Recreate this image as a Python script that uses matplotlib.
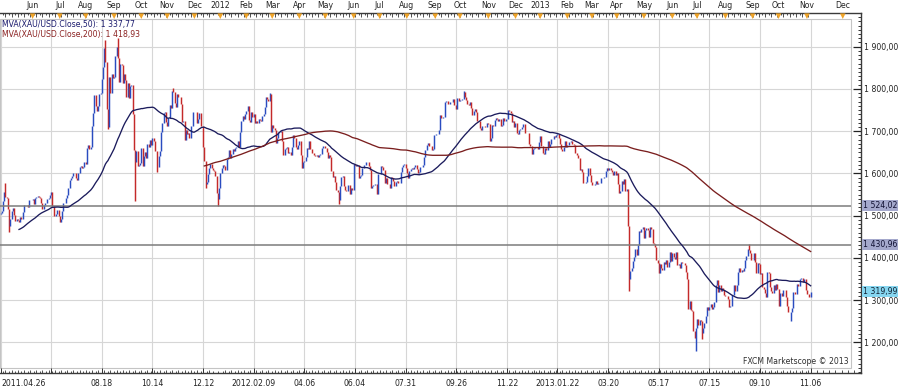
import numpy as np
import pandas as pd
import matplotlib
matplotlib.use("Agg")
import matplotlib.pyplot as plt
import matplotlib.transforms as mtransforms
from matplotlib.patches import Rectangle

plt.rcParams['font.family'] = ['DejaVu Sans']

# ---------------- data (daily closes, XAU/USD) ----------------
close_2011_03 = [1434, 1412, 1421, 1422, 1395, 1397, 1404, 1418, 1426, 1426, 1437, 1437, 1428, 1418, 1417, 1424, 1439]
close_2011_04 = [1429, 1437, 1452, 1459, 1459, 1474, 1464, 1454, 1457, 1473, 1486, 1493, 1496, 1503, 1504, 1504, 1505,
                 1507, 1510, 1535, 1556]
close_2011_05 = [1545, 1542, 1515, 1475, 1492, 1512, 1517, 1502, 1488, 1493, 1490, 1486, 1497, 1493, 1509, 1526, 1526,
                 1526, 1520, 1536, 1536, 1536]
close_2011_06 = [1540, 1528, 1542, 1543, 1546, 1543, 1541, 1530, 1516, 1525, 1529, 1531, 1539, 1541, 1548, 1555, 1522,
                 1500, 1500, 1504, 1513, 1500]
close_2011_07 = [1486, 1491, 1511, 1530, 1530, 1542, 1550, 1565, 1585, 1590, 1594, 1602, 1600, 1589, 1585, 1601, 1616,
                 1618, 1614, 1615, 1628]
close_2011_08 = [1623, 1660, 1667, 1658, 1663, 1713, 1742, 1785, 1760, 1747, 1760, 1787, 1791, 1824, 1852, 1896, 1863,
                 1752, 1710, 1828, 1790, 1835, 1826]
close_2011_09 = [1828, 1877, 1900, 1873, 1817, 1860, 1856, 1814, 1836, 1820, 1781, 1814, 1779, 1806, 1810, 1740, 1656,
                 1627, 1654, 1617, 1620, 1624]
close_2011_10 = [1659, 1617, 1642, 1650, 1637, 1670, 1662, 1680, 1668, 1683, 1677, 1654, 1653, 1615, 1641, 1654, 1697,
                 1720, 1742, 1745, 1722]
close_2011_11 = [1712, 1732, 1761, 1755, 1796, 1792, 1766, 1758, 1788, 1780, 1782, 1764, 1722, 1724, 1680, 1702, 1693,
                 1696, 1684, 1713, 1712, 1746]
close_2011_12 = [1745, 1746, 1720, 1730, 1742, 1713, 1712, 1662, 1630, 1575, 1580, 1598, 1612, 1623, 1612, 1607, 1606,
                 1593, 1553, 1540, 1566]
close_2012_01 = [1600, 1612, 1620, 1617, 1608, 1634, 1640, 1655, 1637, 1647, 1657, 1653, 1659, 1662, 1677, 1663, 1697,
                 1724, 1737, 1728, 1740]
close_2012_02 = [1747, 1759, 1726, 1722, 1745, 1733, 1741, 1720, 1724, 1720, 1728, 1727, 1724, 1735, 1740, 1758, 1780,
                 1777, 1772, 1787, 1699]
close_2012_03 = [1715, 1708, 1703, 1672, 1684, 1698, 1697, 1700, 1676, 1644, 1657, 1660, 1663, 1648, 1650, 1643, 1662,
                 1690, 1685, 1662, 1657, 1668]
close_2012_04 = [1677, 1644, 1613, 1628, 1630, 1640, 1661, 1658, 1676, 1658, 1648, 1649, 1643, 1642, 1643, 1638, 1643,
                 1645, 1661, 1664, 1664]
close_2012_05 = [1661, 1651, 1636, 1643, 1640, 1606, 1591, 1593, 1579, 1561, 1556, 1538, 1571, 1592, 1593, 1571, 1561,
                 1558, 1573, 1573, 1552, 1565, 1560]
close_2012_06 = [1622, 1620, 1617, 1620, 1589, 1594, 1597, 1612, 1619, 1619, 1626, 1628, 1618, 1608, 1566, 1571, 1572,
                 1575, 1574, 1551, 1598]
close_2012_07 = [1598, 1618, 1616, 1607, 1578, 1588, 1574, 1574, 1565, 1591, 1590, 1583, 1570, 1580, 1583, 1578, 1577,
                 1604, 1615, 1620, 1623, 1614]
close_2012_08 = [1600, 1590, 1605, 1610, 1612, 1610, 1616, 1620, 1610, 1600, 1603, 1615, 1616, 1620, 1640, 1655, 1668,
                 1671, 1666, 1664, 1656, 1657, 1691]
close_2012_09 = [1691, 1693, 1694, 1703, 1738, 1731, 1734, 1733, 1768, 1771, 1765, 1764, 1769, 1768, 1776, 1763, 1762,
                 1752, 1778, 1772]
close_2012_10 = [1775, 1775, 1777, 1793, 1780, 1775, 1765, 1762, 1768, 1756, 1738, 1747, 1752, 1745, 1724, 1725, 1708,
                 1702, 1712, 1712, 1709, 1711, 1719]
close_2012_11 = [1716, 1676, 1683, 1715, 1713, 1726, 1731, 1728, 1725, 1730, 1713, 1714, 1732, 1725, 1728, 1729, 1751,
                 1748, 1742, 1721, 1724, 1711]
close_2012_12 = [1719, 1696, 1694, 1703, 1704, 1711, 1716, 1717, 1695, 1696, 1696, 1669, 1666, 1645, 1657, 1660, 1662,
                 1662, 1657, 1675]
close_2013_01 = [1688, 1665, 1648, 1646, 1661, 1656, 1677, 1662, 1669, 1682, 1682, 1689, 1687, 1692, 1693, 1685, 1669,
                 1658, 1654, 1662, 1677, 1663]
close_2013_02 = [1667, 1674, 1675, 1676, 1670, 1667, 1649, 1648, 1644, 1636, 1609, 1610, 1603, 1578, 1577, 1580, 1593,
                 1614, 1596, 1579]
close_2013_03 = [1573, 1573, 1575, 1583, 1576, 1577, 1577, 1590, 1588, 1589, 1592, 1605, 1613, 1608, 1613, 1607, 1604,
                 1596, 1605, 1597]
close_2013_04 = [1600, 1575, 1553, 1558, 1581, 1575, 1586, 1558, 1564, 1476, 1350, 1368, 1377, 1392, 1403, 1422, 1408,
                 1431, 1463, 1462, 1469, 1472]
close_2013_05 = [1446, 1467, 1470, 1467, 1450, 1473, 1469, 1436, 1433, 1426, 1396, 1387, 1364, 1385, 1377, 1372, 1391,
                 1386, 1396, 1378, 1391, 1413, 1392]
close_2013_06 = [1411, 1401, 1398, 1414, 1383, 1385, 1377, 1391, 1388, 1387, 1383, 1367, 1349, 1278, 1298, 1277, 1275,
                 1228, 1211, 1234]
close_2013_07 = [1255, 1242, 1252, 1251, 1223, 1235, 1246, 1262, 1284, 1277, 1283, 1291, 1278, 1283, 1295, 1335, 1347,
                 1320, 1335, 1322, 1328, 1325, 1313]
close_2013_08 = [1310, 1310, 1302, 1283, 1286, 1311, 1313, 1336, 1321, 1335, 1367, 1376, 1366, 1372, 1370, 1377, 1395,
                 1404, 1420, 1418, 1411, 1396]
close_2013_09 = [1395, 1412, 1390, 1365, 1387, 1386, 1363, 1364, 1332, 1326, 1317, 1307, 1367, 1364, 1332, 1322, 1316,
                 1337, 1324, 1338, 1327]
close_2013_10 = [1286, 1318, 1316, 1310, 1323, 1324, 1307, 1286, 1272, 1273, 1273, 1282, 1320, 1315, 1315, 1338, 1334,
                 1349, 1352, 1353, 1344, 1349, 1323]
close_2013_11 = [1315, 1315, 1308, 1319.99]

# intraday extremes (long wicks) visible in the chart
spike_dates = ['2011-05-02', '2011-05-05', '2011-08-23', '2011-08-25', '2011-09-06', '2011-09-26', '2011-10-20',
               '2011-11-08', '2011-12-14', '2011-12-29', '2012-02-28', '2012-05-16', '2012-10-04', '2013-04-15',
               '2013-06-28', '2013-07-05', '2013-08-28', '2013-10-15']
spike_vals = [1577, 1462, 1917, 1705, 1921, 1535, 1604, 1802, 1565, 1523, 1790, 1527, 1796, 1321, 1180, 1207, 1433, 1251]

level_lines = [1524.02, 1430.96]
level_labels = ['1 524,02', '1 430,96']
last_label = '1 319,99'
last_value = 1319.99
ma_periods = [50, 200]
ma_legend = ['MVA(XAU/USD.Close,50): 1 337,77', 'MVA(XAU/USD.Close,200): 1 418,93']
month_names = ['Jan', 'Feb', 'Mar', 'Apr', 'May', 'Jun', 'Jul', 'Aug', 'Sep', 'Oct', 'Nov', 'Dec']
price_ticks = [1200, 1300, 1400, 1500, 1600, 1700, 1800, 1900]
holidays = ['2011-12-26', '2012-01-02', '2012-12-25', '2013-01-01', '2013-03-29']
first_visible_date = '2011-04-26'
copyright_text = 'FXCM Marketscope \u00a9 2013'

# ---------------- assemble ----------------
closes = (close_2011_03 + close_2011_04 + close_2011_05 + close_2011_06 + close_2011_07 + close_2011_08 +
          close_2011_09 + close_2011_10 + close_2011_11 + close_2011_12 + close_2012_01 + close_2012_02 +
          close_2012_03 + close_2012_04 + close_2012_05 + close_2012_06 + close_2012_07 + close_2012_08 +
          close_2012_09 + close_2012_10 + close_2012_11 + close_2012_12 + close_2013_01 + close_2013_02 +
          close_2013_03 + close_2013_04 + close_2013_05 + close_2013_06 + close_2013_07 + close_2013_08 +
          close_2013_09 + close_2013_10 + close_2013_11)
dates = pd.bdate_range('2011-03-09', '2013-11-06', freq='C', holidays=holidays)
assert len(dates) == len(closes), (len(dates), len(closes))
closes = np.array(closes, dtype=float)
opens = np.concatenate([[closes[0]], closes[:-1]])
highs = np.maximum(opens, closes)
lows = np.minimum(opens, closes)
date_pos = {d: i for i, d in enumerate(dates)}
for d, v in zip(spike_dates, spike_vals):
    i = date_pos[pd.Timestamp(d)]
    highs[i] = max(highs[i], v)
    lows[i] = min(lows[i], v)
i0 = date_pos[pd.Timestamp(first_visible_date)]
idx = np.arange(len(dates)) - i0

# ---------------- layout (pixel geometry of the reference) ----------------
FW, FH = 900, 392
L, R, T, B = 0, 861, 13, 373
PXB, X0 = 1.235, 0.5          # px per bar, px of first visible bar


def px2price(y):
    return 1900 - (y - 46.7) / 0.4224


def px2idx(x):
    return (x - X0) / PXB


fig = plt.figure(figsize=(FW / 100, FH / 100), dpi=100)
fig.patch.set_facecolor('white')
ax = fig.add_axes([L / FW, (FH - B) / FH, (R - L) / FW, (B - T) / FH])
ax.set_xlim(px2idx(L), px2idx(R))
ax.set_ylim(px2price(B), px2price(T))
ax.set_facecolor('white')
APX = 1.0 / (B - T)   # axes fraction per pixel (vertical)
trans = mtransforms.blended_transform_factory(ax.transData, ax.transAxes)

xin0, xin1 = px2idx(0), px2idx(851)
pin_top, pin_bot = px2price(19), px2price(368)

# grid
grid_c = '#d6d6d6'
ax.hlines(price_ticks, xin0, xin1, colors=grid_c, lw=0.8, zorder=1)
label_idx = list(range(0, int(idx[-1]) + 1, 41))
ax.vlines(label_idx, pin_bot, pin_top, colors=grid_c, lw=0.8, zorder=1)
ax.add_patch(Rectangle((xin0, pin_bot), xin1 - xin0, pin_top - pin_bot, fill=False,
                       edgecolor='#c4c4c4', lw=0.8, zorder=1))

# bars
up_c, dn_c = '#2a4cc0', '#c42a2a'
cols = [up_c if c >= o else dn_c for o, c in zip(opens, closes)]
ax.vlines(idx, lows, highs, colors=cols, lw=1.05, zorder=3)

# level lines
ax.hlines(level_lines, xin0, xin1, colors='#7c7c7c', lw=1.1, zorder=4)

# moving averages
s = pd.Series(closes)
ma_cols = ['#1b1b5c', '#7a1e1e']
for p, c in zip(ma_periods, ma_cols):
    ma = s.rolling(p).mean().values
    ax.plot(idx, ma, color=c, lw=0.95, zorder=5)

# legend texts
ax.text(px2idx(2), 1 - (25 - T) * APX, ma_legend[0], transform=trans, fontsize=5.6, color='#1b1b6e',
        va='center', ha='left')
ax.text(px2idx(2), 1 - (34 - T) * APX, ma_legend[1], transform=trans, fontsize=5.6, color='#8b2222',
        va='center', ha='left')
ax.text(px2idx(849), 1 - (362 - T) * APX, copyright_text, transform=trans, fontsize=5.6, color='#303030',
        va='center', ha='right')

# right price axis
for sp in ['left']:
    ax.spines[sp].set_visible(False)
for sp in ['top', 'bottom', 'right']:
    ax.spines[sp].set_color('#3a3a3a')
    ax.spines[sp].set_linewidth(1.0)
ax.yaxis.tick_right()
ax.set_yticks(price_ticks)
ax.set_yticklabels([f"{v // 1000} {v % 1000:03d},00" for v in price_ticks])
ax.set_yticks(np.arange(1130, 1980, 10), minor=True)
ax.tick_params(axis='y', which='major', direction='in', length=6, width=0.9, pad=1.8, labelsize=5.6,
               colors='#222222')
ax.tick_params(axis='y', which='minor', direction='in', length=2.2, width=0.7, colors='#333333')
ax.set_xticks([])

# label boxes on right axis
tr_r = mtransforms.blended_transform_factory(ax.transAxes, ax.transData)
for v, lab in zip(level_lines, level_labels):
    ax.text(1.0 + 2.0 / (R - L), v, lab, transform=tr_r, fontsize=5.6, color='#111133', va='center', ha='left',
            bbox=dict(boxstyle='square,pad=0.12', fc='#a4a8cc', ec='none'), clip_on=False, zorder=6)
ax.text(1.0 + 2.0 / (R - L), last_value, last_label, transform=tr_r, fontsize=5.6, color='#112233', va='center',
        ha='left', bbox=dict(boxstyle='square,pad=0.12', fc='#86d6f0', ec='none'), clip_on=False, zorder=6)

# bottom ruler
vis = idx >= 0
vis_dates = dates[vis]
vis_idx = idx[vis]
mondays = [i for i, d in zip(vis_idx, vis_dates) if d.weekday() == 0]
weds = [i for i, d in zip(vis_idx, vis_dates) if d.weekday() == 3]
ext = list(range(int(idx[-1]) + 1, int(px2idx(R))))
ax.vlines(mondays + [m for m in ext if (m - int(idx[-1])) % 5 == 0], 0, 3 * APX, transform=trans,
          colors='#333333', lw=0.6, clip_on=False)
ax.vlines(weds, 0, 1.6 * APX, transform=trans, colors='#333333', lw=0.6, clip_on=False)
ax.vlines(label_idx, 0, 5.5 * APX, transform=trans, colors='#333333', lw=0.7, clip_on=False)
prev_year = None
for k, i in enumerate(label_idx):
    if i == 41:
        continue
    d = vis_dates[i]
    lab = d.strftime('%Y.%m.%d') if (prev_year is None or d.year != prev_year) else d.strftime('%m.%d')
    prev_year = d.year
    ax.text(i if i > 0 else px2idx(1), -(384 - B) * APX, lab, transform=trans, fontsize=5.6, color='#222222',
            ha='left' if i == 0 else 'center', va='center', clip_on=False)

# top ruler
ax.vlines(mondays, 1 - 3.5 * APX, 1, transform=trans, colors='#333333', lw=0.6, clip_on=False)
ax.vlines(weds, 1 - 2 * APX, 1, transform=trans, colors='#333333', lw=0.6, clip_on=False)
month_idx, month_lab = [], []
prev_m = None
for i, d in zip(vis_idx, vis_dates):
    if prev_m is not None and d.month != prev_m and i > 10:
        month_idx.append(i)
        month_lab.append(str(d.year) if d.month == 1 else month_names[d.month - 1])
    prev_m = d.month
month_idx.append(682)
month_lab.append('Dec')
ax.scatter(month_idx, [1 - 3.2 * APX] * len(month_idx), transform=trans, marker='v', s=16,
           color='#f0a428', edgecolors='none', clip_on=False, zorder=7)
for i, lab in zip(month_idx, month_lab):
    ax.text(i, 1 + (T - 6) * APX, lab, transform=trans, fontsize=5.6, color='#222222', ha='center',
            va='center', clip_on=False)

fig.savefig('out.png', dpi=100, facecolor='white')
